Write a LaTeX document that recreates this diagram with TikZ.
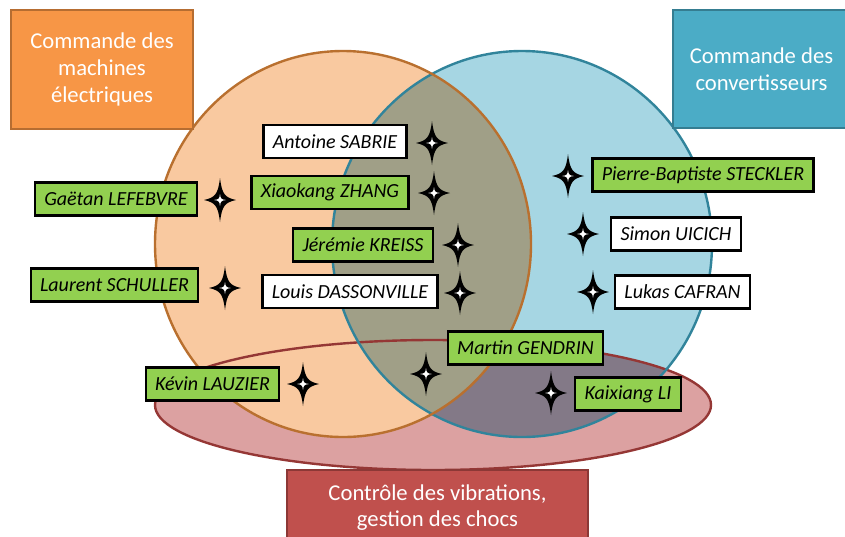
\documentclass[tikz,border=0pt]{standalone}
\usepackage{fontspec}
\setmainfont{Carlito}
\usetikzlibrary{positioning}

\definecolor{orangeTheme}{RGB}{247,150,70}
\definecolor{orangeBord}{RGB}{182,109,49}
\definecolor{bleuTheme}{RGB}{75,172,198}
\definecolor{bleuBord}{RGB}{53,125,145}
\definecolor{rougeTheme}{RGB}{192,80,77}
\definecolor{rougeBord}{RGB}{140,56,54}
\definecolor{peche}{RGB}{249,201,160}
\definecolor{bleuClair}{RGB}{166,214,227}
\definecolor{roseClair}{RGB}{220,161,161}
\definecolor{olive}{RGB}{160,159,135}
\definecolor{violetGris}{RGB}{131,121,135}
\definecolor{cercleOrange}{RGB}{185,112,47}
\definecolor{cercleBleu}{RGB}{49,132,155}
\definecolor{cercleRouge}{RGB}{149,55,53}
\definecolor{vertNom}{RGB}{146,208,80}

\tikzset{every picture/.style={line width=0.75pt}}
\tikzset{
  theme/.style={draw, line width=1.5pt, text=white, align=center,
    font=\fontsize{17}{20}\selectfont},
  nom/.style={draw=black, line width=1.7pt, inner xsep=7pt,
    minimum height=24.75pt, font=\fontsize{15}{18}\selectfont\itshape},
  nomvert/.style={nom, fill=vertNom},
  nomblanc/.style={nom, fill=white},
  etoile/.pic={
    \fill[black] (0,-22) .. controls (2,-5.5) and (5,-2.5) .. (16,0)
      .. controls (5,2.5) and (2,5.5) .. (0,22) .. controls (-2,5.5) and (-5,2.5) .. (-16,0)
      .. controls (-5,-2.5) and (-2,-5.5) .. cycle;
    \fill[white] (0,-6) .. controls (0.6,-1.2) and (1.2,-0.6) .. (6,0) .. controls (1.2,0.6) and (0.6,1.2) .. (0,6)
      .. controls (-0.6,1.2) and (-1.2,0.6) .. (-6,0) .. controls (-1.2,-0.6) and (-0.6,-1.2) .. cycle;
  }
}

\begin{document}
\begin{tikzpicture}[x=0.75pt,y=0.75pt,yscale=-1,xscale=1]
\useasboundingbox (0,0) rectangle (845,536);

% ensembles
\fill[roseClair] (433,405) ellipse [x radius=278, y radius=65];
\fill[bleuClair] (522,244) ellipse [x radius=190, y radius=193];
\begin{scope}
  \clip (522,244) ellipse [x radius=190, y radius=193];
  \fill[violetGris] (433,405) ellipse [x radius=278, y radius=65];
\end{scope}
\fill[peche] (343,244) ellipse [x radius=188, y radius=193];
\begin{scope}
  \clip (343,244) ellipse [x radius=188, y radius=193];
  \fill[olive] (522,244) ellipse [x radius=190, y radius=193];
\end{scope}
\draw[cercleRouge, line width=1.8pt] (433,405) ellipse [x radius=278, y radius=65];
\draw[cercleBleu, line width=1.8pt] (522,244) ellipse [x radius=190, y radius=193];
\draw[cercleOrange, line width=1.8pt] (343,244) ellipse [x radius=188, y radius=193];

% themes
\node[theme, draw=orangeBord, fill=orangeTheme, minimum width=136.5pt, minimum height=89.25pt]
  (machines) at (102,69.5) {Commande des\\machines\\électriques};
\node[theme, draw=bleuBord, fill=bleuTheme, minimum width=132.75pt, minimum height=88.5pt]
  (convertisseurs) at (761.5,69) {Commande des\\convertisseurs};
\node[theme, draw=rougeBord, fill=rougeTheme, minimum width=225.75pt, minimum height=56.25pt]
  (vibrations) at (437.5,507.5) {Contrôle des vibrations,\\gestion des chocs};

% noms
\node[nomblanc] (antoine) at (335,141.5) {Antoine SABRIE};
\node[nomvert] (xiaokang) at (330,192.5) {Xiaokang ZHANG};
\node[nomvert] (gaetan) at (116,199) {Gaëtan LEFEBVRE};
\node[nomvert] (jeremie) at (363,245) {Jérémie KREISS};
\node[nomvert] (laurent) at (114.5,285) {Laurent SCHULLER};
\node[nomblanc] (louis) at (350,291.5) {Louis DASSONVILLE};
\node[nomvert] (pierre) at (703,175) {Pierre-Baptiste STECKLER};
\node[nomblanc] (simon) at (676,234) {Simon UICICH};
\node[nomblanc] (lukas) at (682.5,292) {Lukas CAFRAN};
\node[nomvert] (martin) at (525.5,348) {Martin GENDRIN};
\node[nomvert] (kaixiang) at (628,394) {Kaixiang LI};
\node[nomvert] (kevin) at (212.5,384) {Kévin LAUZIER};

% etoiles
\pic (etAntoine) at (432,143) {etoile};
\pic (etXiaokang) at (434,193) {etoile};
\pic (etGaetan) at (220,200) {etoile};
\pic (etJeremie) at (458,245) {etoile};
\pic (etLaurent) at (225,288) {etoile};
\pic (etLouis) at (460,293) {etoile};
\pic (etPierre) at (568,176) {etoile};
\pic (etSimon) at (583,234) {etoile};
\pic (etLukas) at (593,292) {etoile};
\pic (etMartin) at (426,374) {etoile};
\pic (etKaixiang) at (551,393) {etoile};
\pic (etKevin) at (303,384) {etoile};

\end{tikzpicture}
\end{document}
